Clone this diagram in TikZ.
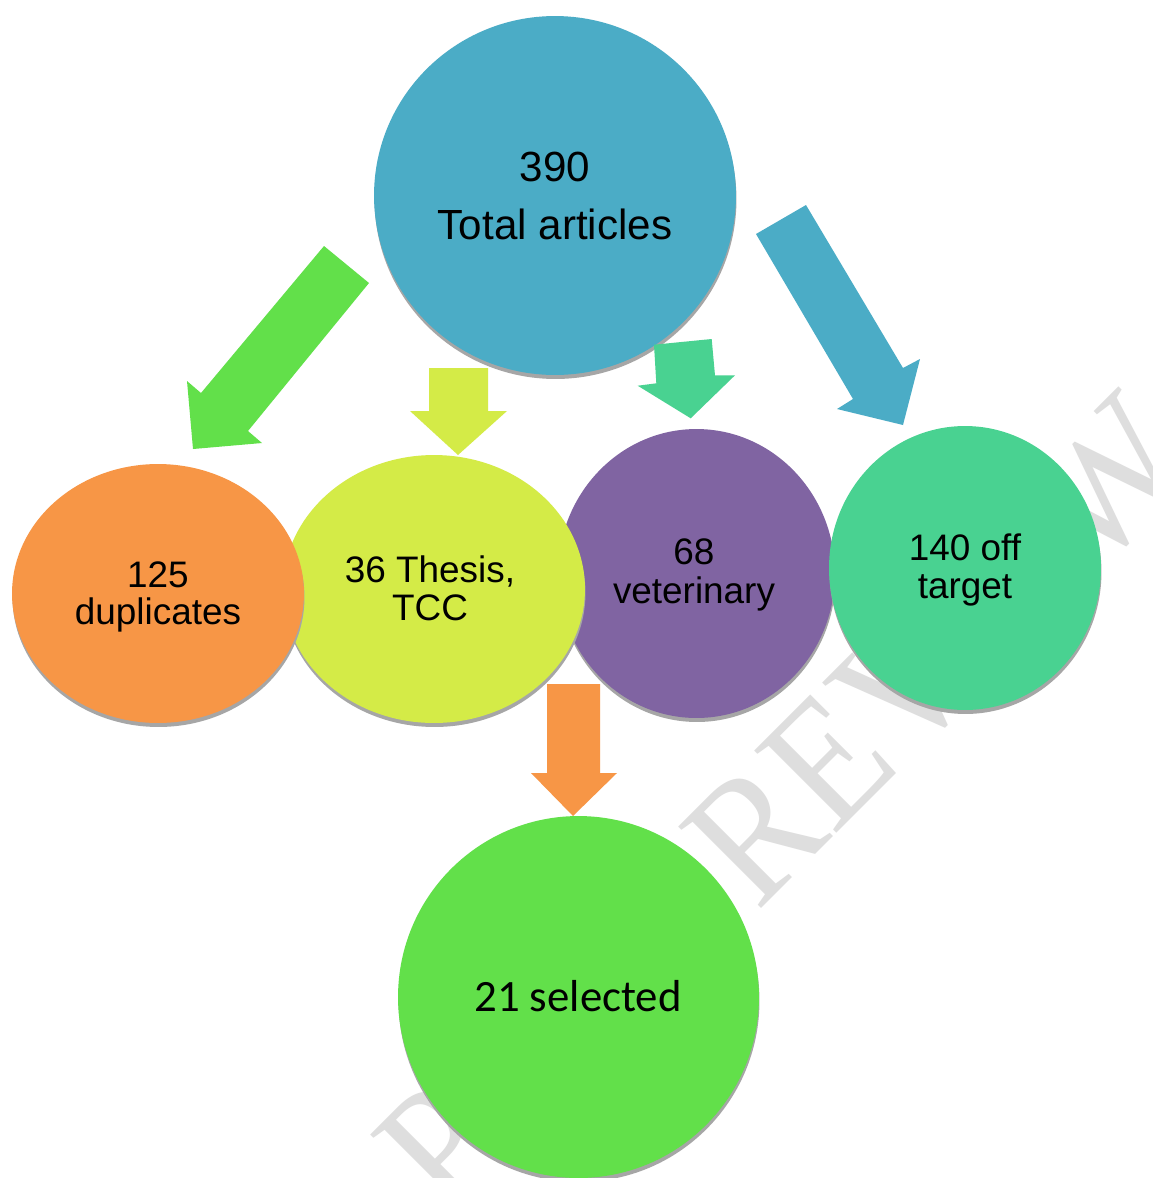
\documentclass[tikz,border=0pt]{standalone}
\usepackage{fontspec}
\setmainfont{Liberation Sans}
\newfontfamily\calfont{Carlito}
\newfontfamily\wmfont[FakeStretch=0.91]{Liberation Serif}
\usetikzlibrary{shapes.geometric}
\definecolor{cTotal}{HTML}{4BACC6}
\definecolor{cDup}{HTML}{F79646}
\definecolor{cThesis}{HTML}{D4EB47}
\definecolor{cVet}{HTML}{8064A2}
\definecolor{cOff}{HTML}{49D291}
\definecolor{cSel}{HTML}{62E04A}
\definecolor{cShadow}{HTML}{A6A6A6}
\definecolor{cWm}{HTML}{DEDEDE}
\newcommand\mybubble[6]{%
  \node[bub, fill=cShadow, minimum width=#4cm, minimum height=#5cm, yshift=-0.08cm, xshift=0.01cm] (#1-sh) at (#2,#3) {};
  \node[bub, fill=#6, minimum width=#4cm, minimum height=#5cm] (#1) at (#2,#3) {};
}
\begin{document}
\begin{tikzpicture}[x=0.02cm,y=-0.02cm,
  bub/.style={ellipse, inner sep=0pt, draw=none},
  lbl/.style={anchor=base, inner sep=0pt, font=\fontsize{21}{25}\selectfont},
  biglbl/.style={anchor=base, inner sep=0pt, font=\fontsize{24}{29}\selectfont},
  sellbl/.style={anchor=base, inner sep=0pt, font=\calfont\fontsize{25.5}{30}\selectfont},
  wmark/.style={anchor=base west, inner sep=0pt, rotate=45, text=cWm, font=\wmfont\fontsize{101}{120}\selectfont}]
\useasboundingbox (0,0) rectangle (1153,1178);
\clip (0,0) rectangle (1153,1178);
\fill[white] (0,0) rectangle (1153,1178);
% watermark
\node[wmark] (wm) at (28,1642) {UNDER PEER REVIEW};
% bubbles (back to front)
\mybubble{vet}{696.5}{573.5}{5.54}{5.78}{cVet}
\mybubble{off}{965}{568}{5.44}{5.68}{cOff}
\mybubble{thesis}{434}{589}{6.04}{5.36}{cThesis}
\mybubble{dup}{158}{593.5}{5.84}{5.18}{cDup}
\mybubble{total}{555}{195.5}{7.24}{7.18}{cTotal}
\mybubble{sel}{578.5}{997}{7.22}{7.24}{cSel}
% labels
\node[biglbl] (total-a) at (555,181) {390};
\node[biglbl] (total-b) at (555,239) {Total articles};
\node[lbl] (dup-a) at (158,587) {125};
\node[lbl] (dup-b) at (158,624) {duplicates};
\node[lbl] (thesis-a) at (430,582) {36 Thesis,};
\node[lbl] (thesis-b) at (430,620) {TCC};
\node[lbl] (vet-a) at (694,564) {68};
\node[lbl] (vet-b) at (694,603) {veterinary};
\node[lbl] (off-a) at (965,560) {140 off};
\node[lbl] (off-b) at (965,598) {target};
\node[sellbl] (sel-a) at (578,1011) {21 selected};
% block arrows
\fill[cSel] (324,246) -- (369,283) -- (248,431) -- (262,443) -- (193,449) -- (187,381) -- (201,393) -- cycle;
\fill[cThesis] (429,368) -- (488,368) -- (488,411) -- (507,411) -- (458,455) -- (410,411) -- (429,411) -- cycle;
\fill[cOff] (654,344.7) -- (711.7,339) -- (715,375.3) -- (735,375.3) -- (690.7,418.3) -- (637.7,385.7) -- (656.3,383.3) -- cycle;
\fill[cTotal] (756,234) -- (806,205) -- (903,368) -- (920,359) -- (903,425) -- (837,409) -- (853,399) -- cycle;
\fill[cDup] (547,684) -- (600,684) -- (600,773) -- (617,773) -- (573,816) -- (531,773) -- (547,773) -- cycle;
\end{tikzpicture}
\end{document}
